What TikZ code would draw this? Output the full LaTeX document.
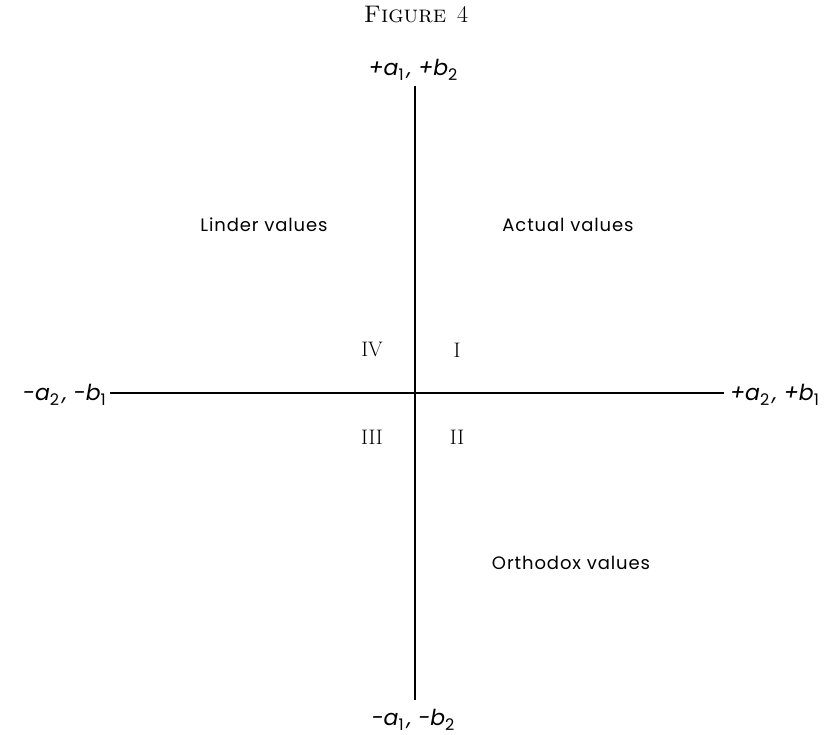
\documentclass[tikz,border=0pt]{standalone}
\usepackage{fontspec}
\setsansfont{Poppins}
\newcommand{\lowsub}[1]{\raisebox{-0.45ex}{\fontsize{16}{18}\selectfont\upshape #1}}
\begin{document}
\begin{tikzpicture}[x=1pt,y=1pt,
  axis/.style={line width=1.6pt, black},
  lbl/.style={font=\sffamily\fontsize{18}{21}\selectfont\addfontfeature{LetterSpace=5}, inner sep=0pt},
  quad/.style={font=\rmfamily\fontsize{21}{24}\selectfont\addfontfeature{FakeBold=1.2}, inner sep=0pt},
  endlbl/.style={font=\sffamily\itshape\fontsize{22}{26}\selectfont, inner sep=0pt}]
\useasboundingbox (0,0) rectangle (831,735);
\node[font=\rmfamily\fontsize{24}{28}\selectfont\addfontfeature{FakeBold=1.5}, inner sep=0pt] (title) at (416,720) {\textsc{Figure}\hspace{0.45em}4};
\coordinate (vtop) at (415,649);
\coordinate (vbot) at (415,35);
\coordinate (hleft) at (110,342);
\coordinate (hright) at (724,342);
\draw[axis] (vtop) -- (vbot);
\draw[axis] (hleft) -- (hright);
\node[endlbl] (top) at (413,665) {+a\lowsub{1}\,, +b\lowsub{2}};
\node[endlbl] (bot) at (413,15) {-a\lowsub{1}\,, -b\lowsub{2}};
\node[endlbl, anchor=east] (left) at (106,340) {-a\lowsub{2}\,, -b\lowsub{1}};
\node[endlbl, anchor=west] (right) at (730,340) {+a\lowsub{2}\,, +b\lowsub{1}};
\node[quad] (q4) at (372,385) {IV};
\node[quad] (q1) at (457,385) {I};
\node[quad] (q3) at (372,298) {III};
\node[quad] (q2) at (457,298) {II};
\node[lbl] (linder) at (264,510) {Linder values};
\node[lbl] (actual) at (568,510) {Actual values};
\node[lbl] (ortho) at (571,172) {Orthodox values};
\end{tikzpicture}
\end{document}
